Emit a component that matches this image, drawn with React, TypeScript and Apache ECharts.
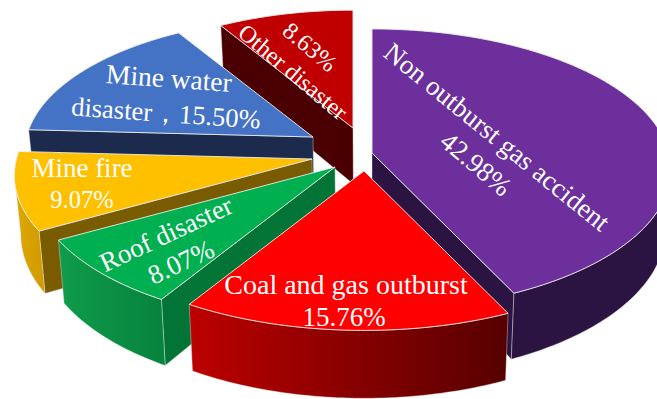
import React, { useEffect, useRef } from "react";
import * as echarts from "echarts";

// Share of accidents by type, clockwise from twelve o'clock.
const categories = [
  "Non outburst gas accident",
  "Coal and gas outburst",
  "Roof disaster",
  "Mine fire",
  "Mine water disaster",
  "Other disaster",
];
const shares = [42.98, 15.76, 8.07, 9.07, 15.5, 8.63];

// Painter's order: slices at the back are drawn first.
const drawRank = [4, 5, 3, 2, 1, 0];

// Where each exploded wedge has its tip, and how large perspective renders it.
const tipX = [372, 364, 335, 312, 313, 353];
const tipY = [153, 171, 167, 159, 137, 128];
const wedgeScale = [1, 1.015, 1.008, 0.995, 0.965, 0.95];

const topColors = ["#6C2F9C", "#FF0000", "#00B050", "#FFC000", "#4472C4", "#C00000"];
const sideColors = ["#2B1342", "#660000", "#027536", "#7A5C00", "#1B2A4D", "#4A0000"];
const rimFrom = ["#2B1342", "#BC0000", "#0E9C4B", "#E0A800", "#1B2A4D", "#4A0000"];
const rimTo = ["#2B1342", "#560000", "#07823E", "#D09A00", "#1B2A4D", "#4A0000"];

// Perspective of the tilted disc.
const RADIUS_X = 297;
const RADIUS_Y = 138.6;
const PERSPECTIVE = 0.1174;
const THICKNESS = 59;
const VANISH_X = 370;
const BASE_SHRINK = 0.982;
const RIM_FIRST = 96.7;
const RIM_LAST = 263.3;

const TOP_EDGE = "rgba(235,235,235,0.9)";
const SIDE_EDGE = "rgba(235,235,235,0.4)";
const SERIF = '"Liberation Serif", serif';

type Caption = { text: string; x: number; y: number; rot: number; size: number };

const total = shares.reduce((a, b) => a + b, 0);
const pct = (i: number) => `${shares[i].toFixed(2)}%`;

// Captions for each slice, with the percentage taken from the data.
const captions: Caption[] = [
  { text: categories[0], x: 497, y: 137, rot: -39, size: 27 },
  { text: pct(0), x: 476, y: 164, rot: -40, size: 27 },
  { text: categories[1], x: 346, y: 284, rot: 0, size: 28 },
  { text: pct(1), x: 344, y: 317, rot: 0, size: 27 },
  { text: categories[2], x: 166, y: 234, rot: 25, size: 27 },
  { text: pct(2), x: 181, y: 262, rot: 25, size: 27 },
  { text: categories[3], x: 82, y: 168, rot: 0, size: 27 },
  { text: pct(3), x: 82, y: 199, rot: 0, size: 24.5 },
  { text: "Mine water", x: 169, y: 78, rot: -4, size: 27.5 },
  { text: `disaster，${pct(4)}`, x: 166, y: 113, rot: -4, size: 26.5 },
  { text: categories[5], x: 293, y: 72, rot: -40, size: 24 },
  { text: pct(5), x: 310, y: 47, rot: -40, size: 24 },
];

const rad = (deg: number) => (deg * Math.PI) / 180;

function topPoint(i: number, deg: number): number[] {
  const u = Math.sin(rad(deg));
  const v = Math.cos(rad(deg));
  const w = 1 + PERSPECTIVE * v;
  return [
    tipX[i] + (wedgeScale[i] * RADIUS_X * u) / w,
    tipY[i] - (wedgeScale[i] * RADIUS_Y * v) / w,
  ];
}

function basePoint(i: number, deg: number): number[] {
  const [x, y] = topPoint(i, deg);
  const w = 1 + PERSPECTIVE * Math.cos(rad(deg));
  return [VANISH_X + (x - VANISH_X) * BASE_SHRINK, y + (wedgeScale[i] * THICKNESS) / w];
}

function tipBase(i: number): number[] {
  return [
    VANISH_X + (tipX[i] - VANISH_X) * BASE_SHRINK,
    tipY[i] + wedgeScale[i] * THICKNESS,
  ];
}

function arcAngles(a: number, b: number): number[] {
  const out: number[] = [];
  const steps = Math.max(2, Math.ceil(b - a));
  for (let s = 0; s <= steps; s++) out.push(a + ((b - a) * s) / steps);
  return out;
}

function renderSlice(params: any, api: any) {
  const i = params.dataIndex;
  const before = shares.slice(0, i).reduce((a, b) => a + b, 0);
  const start = (before / total) * 360;
  const end = start + (api.value(0) / total) * 360;
  const z = drawRank[i] * 10;
  const children: any[] = [];
  const sideLine = { stroke: SIDE_EDGE, lineWidth: 1, lineJoin: "round" };

  const radialWall = (deg: number) => ({
    type: "polygon",
    z2: z,
    shape: {
      points: [[tipX[i], tipY[i]], topPoint(i, deg), basePoint(i, deg), tipBase(i)],
    },
    style: { fill: sideColors[i], ...sideLine },
  });

  if (start > 180) children.push(radialWall(start));
  if (end < 180) children.push(radialWall(end));

  const rimA = Math.max(start, RIM_FIRST);
  const rimB = Math.min(end, RIM_LAST);
  if (rimB > rimA) {
    const angles = arcAngles(rimA, rimB);
    children.push({
      type: "polygon",
      z2: z + 1,
      shape: {
        points: [
          ...angles.map((d) => topPoint(i, d)),
          ...angles.slice().reverse().map((d) => basePoint(i, d)),
        ],
      },
      style: {
        fill: new echarts.graphic.LinearGradient(0, 0, 1, 0, [
          { offset: 0, color: rimFrom[i] },
          { offset: 1, color: rimTo[i] },
        ]),
        ...sideLine,
      },
    });
  }

  children.push({
    type: "polygon",
    z2: z + 2,
    shape: {
      points: [[tipX[i], tipY[i]], ...arcAngles(start, end).map((d) => topPoint(i, d))],
    },
    style: { fill: topColors[i], stroke: TOP_EDGE, lineWidth: 1, lineJoin: "round" },
  });

  return { type: "group", children };
}

function renderCaption(params: any) {
  const c = captions[params.dataIndex];
  return {
    type: "text",
    z2: 100,
    x: c.x,
    y: c.y,
    rotation: rad(c.rot),
    style: {
      text: c.text,
      fill: "#FFFFFF",
      font: `${c.size}px ${SERIF}`,
      align: "center",
      verticalAlign: "middle",
    },
  };
}

export default function App() {
  const ref = useRef<HTMLDivElement>(null);

  useEffect(() => {
    document.body.style.margin = "0";
    const chart = echarts.init(ref.current!, undefined, { renderer: "svg" });
    chart.setOption({
      animation: false,
      backgroundColor: "#FFFFFF",
      series: [
        {
          type: "custom",
          coordinateSystem: "none",
          renderItem: renderSlice,
          data: shares.map((v, i) => ({ name: categories[i], value: [v] })),
          silent: true,
        },
        {
          type: "custom",
          coordinateSystem: "none",
          z: 5,
          renderItem: renderCaption,
          data: captions.map((c) => c.text),
          silent: true,
        },
      ],
    });
    return () => chart.dispose();
  }, []);

  return <div ref={ref} style={{ width: 657, height: 399 }} />;
}
